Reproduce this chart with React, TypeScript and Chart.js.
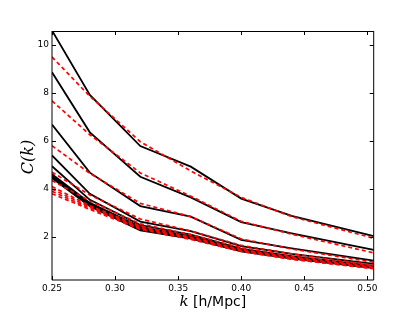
import React, { useEffect, useRef } from "react";
import { Chart, registerables } from "chart.js";

Chart.register(...registerables);

// wavenumber grid (h/Mpc)
const kValues = [0.25, 0.28, 0.32, 0.36, 0.4, 0.44, 0.505];

// measured C(k) curves (solid black)
const black1 = [10.6, 7.92, 5.79, 4.93, 3.6, 2.88, 2.04];
const black2 = [8.86, 6.36, 4.51, 3.65, 2.62, 2.15, 1.46];
const black3 = [6.68, 4.68, 3.29, 2.85, 1.88, 1.53, 1.02];
const black4 = [5.4, 3.8, 2.64, 2.25, 1.62, 1.3, 0.88];
const black5 = [4.95, 3.55, 2.5, 2.1, 1.52, 1.2, 0.8];
const black6 = [4.62, 3.42, 2.42, 2.03, 1.48, 1.16, 0.78];
const black7 = [4.55, 3.38, 2.36, 1.99, 1.45, 1.14, 0.76];
const black8 = [4.5, 3.33, 2.32, 1.96, 1.42, 1.12, 0.73];
const black9 = [4.45, 3.28, 2.28, 1.93, 1.4, 1.1, 0.71];

// model curves (dashed red)
const red1 = [9.5, 7.86, 5.97, 4.75, 3.65, 2.85, 1.95];
const red2 = [7.67, 6.26, 4.67, 3.7, 2.65, 2.12, 1.34];
const red3 = [5.8, 4.65, 3.4, 2.85, 1.92, 1.5, 0.95];
const red4 = [4.7, 3.75, 2.75, 2.25, 1.65, 1.3, 0.83];
const red5 = [4.35, 3.5, 2.55, 2.1, 1.55, 1.2, 0.78];
const red6 = [4.1, 3.3, 2.45, 2.0, 1.48, 1.14, 0.74];
const red7 = [4.0, 3.25, 2.4, 1.97, 1.45, 1.12, 0.72];
const red8 = [3.9, 3.2, 2.36, 1.94, 1.42, 1.1, 0.7];
const red9 = [3.8, 3.15, 2.32, 1.9, 1.4, 1.07, 0.68];

const xTicks = [0.25, 0.3, 0.35, 0.4, 0.45, 0.5];
const yTicks = [2, 4, 6, 8, 10];

const xTitleMath = "k";
const xTitleRest = " [h/Mpc]";
const yTitle = "C(k)";

const blackSeries = [black1, black2, black3, black4, black5, black6, black7, black8, black9];
const redSeries = [red1, red2, red3, red4, red5, red6, red7, red8, red9];

const toPoints = (ys: number[]) => ys.map((y, i) => ({ x: kValues[i], y }));

const framePlugin = {
  id: "frameTicks",
  afterDatasetsDraw(chart: any) {
    const { ctx, chartArea: a, scales } = chart;
    ctx.save();
    ctx.strokeStyle = "#000";
    ctx.lineWidth = 1;
    ctx.beginPath();
    ctx.moveTo(a.left, a.top + 0.5);
    ctx.lineTo(a.right, a.top + 0.5);
    ctx.moveTo(a.right, a.top);
    ctx.lineTo(a.right, a.bottom);
    ctx.moveTo(a.left, a.bottom);
    ctx.lineTo(a.right, a.bottom);
    ctx.moveTo(a.left, a.top);
    ctx.lineTo(a.left, a.bottom);
    const tl = 4;
    for (const v of xTicks) {
      const px = Math.round(scales.x.getPixelForValue(v)) + 0.5;
      ctx.moveTo(px, a.bottom);
      ctx.lineTo(px, a.bottom - tl);
      ctx.moveTo(px, a.top);
      ctx.lineTo(px, a.top + tl);
    }
    for (const v of yTicks) {
      const py = Math.round(scales.y.getPixelForValue(v)) + 0.5;
      ctx.moveTo(a.left, py);
      ctx.lineTo(a.left + tl, py);
      ctx.moveTo(a.right, py);
      ctx.lineTo(a.right - tl, py);
    }
    ctx.stroke();
    ctx.restore();
  },
  afterDraw(chart: any) {
    const { ctx, chartArea: a } = chart;
    ctx.save();
    ctx.fillStyle = "#000";
    ctx.textBaseline = "middle";
    // x title
    const mathFont = "italic 15px 'DejaVu Serif'";
    const restFont = "14px 'DejaVu Sans'";
    ctx.font = mathFont;
    const w1 = ctx.measureText(xTitleMath).width;
    ctx.font = restFont;
    const w2 = ctx.measureText(xTitleRest).width;
    const cx = (a.left + a.right) / 2;
    const x0 = cx - (w1 + w2) / 2;
    const yBase = 302;
    ctx.textAlign = "left";
    ctx.font = mathFont;
    ctx.fillText(xTitleMath, x0, yBase);
    ctx.font = restFont;
    ctx.fillText(xTitleRest, x0 + w1, yBase);
    // y title
    ctx.translate(29, 157);
    ctx.rotate(-Math.PI / 2);
    ctx.textAlign = "center";
    ctx.font = "italic 16px 'DejaVu Serif'";
    ctx.fillText(yTitle, 0, 0);
    ctx.restore();
  },
};

export default function App() {
  const ref = useRef<HTMLCanvasElement | null>(null);

  useEffect(() => {
    document.body.style.margin = "0";
    const canvas = ref.current;
    if (!canvas) return;
    const datasets: any[] = [];
    redSeries.forEach((s, i) =>
      datasets.push({
        label: `model ${i + 1}`,
        data: toPoints(s),
        borderColor: "#ff0000",
        borderWidth: 1.7,
        borderDash: [4, 3],
        pointRadius: 0,
        fill: false,
        tension: 0,
      })
    );
    blackSeries.forEach((s, i) =>
      datasets.push({
        label: `data ${i + 1}`,
        data: toPoints(s),
        borderColor: "#000000",
        borderWidth: 1.8,
        pointRadius: 0,
        fill: false,
        tension: 0,
      })
    );

    const chart = new Chart(canvas, {
      type: "line",
      data: { datasets },
      options: {
        animation: false,
        responsive: false,
        maintainAspectRatio: false,
        layout: { padding: { left: 0, top: 31, right: 41.3, bottom: 0 } },
        plugins: { legend: { display: false }, tooltip: { enabled: false } },
        scales: {
          x: {
            type: "linear",
            min: 0.25,
            max: 0.505,
            border: { display: false },
            grid: { display: false, drawTicks: false },
            afterBuildTicks: (s: any) => {
              s.ticks = xTicks.map((v) => ({ value: v }));
            },
            afterFit: (s: any) => {
              s.height = 32;
            },
            ticks: {
              autoSkip: false,
              maxRotation: 0,
              padding: 3,
              color: "#000",
              font: { family: "DejaVu Sans", size: 9 },
              callback: (v: any) => Number(v).toFixed(2),
            },
          },
          y: {
            type: "linear",
            min: 0.21,
            max: 10.58,
            border: { display: false },
            grid: { display: false, drawTicks: false },
            afterBuildTicks: (s: any) => {
              s.ticks = yTicks.map((v) => ({ value: v }));
            },
            afterFit: (s: any) => {
              s.width = 52;
            },
            ticks: {
              autoSkip: false,
              padding: 3,
              color: "#000",
              font: { family: "DejaVu Sans", size: 9 },
              callback: (v: any) => String(v),
            },
          },
        },
      },
      plugins: [framePlugin],
    });
    return () => chart.destroy();
  }, []);

  return <canvas ref={ref} width={415} height={312} style={{ display: "block" }} />;
}
